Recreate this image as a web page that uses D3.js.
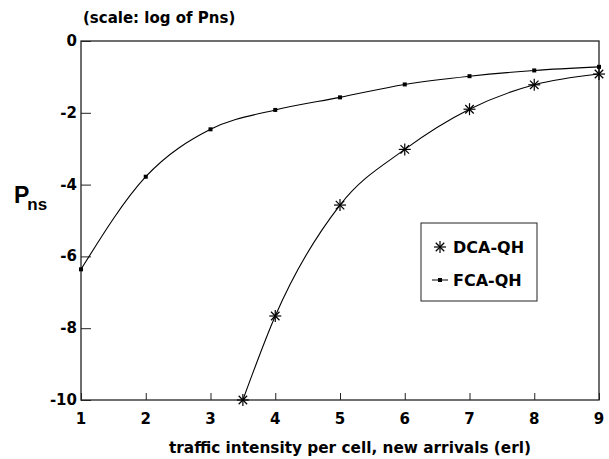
<!DOCTYPE html>
<html>
<head>
<meta charset="utf-8">
<script src="https://cdn.jsdelivr.net/npm/d3@7"></script>
<style>
  body { margin: 0; background: #fff; }
  svg { display: block; font-family: "DejaVu Sans", sans-serif; }
</style>
</head>
<body>
<svg id="chart" width="609" height="459"></svg>
<script>
// traffic intensity (erl) and log10(Pns)
var fcaX = [1, 2, 3, 4, 5, 6, 7, 8, 9];
var fcaY = [-6.36, -3.78, -2.46, -1.92, -1.57, -1.21, -0.98, -0.82, -0.72];
var dcaX = [3.5, 4, 5, 6, 7, 8, 9];
var dcaY = [-10, -7.66, -4.57, -3.02, -1.90, -1.22, -0.92];
var xTicks = [1, 2, 3, 4, 5, 6, 7, 8, 9];
var yTicks = [0, -2, -4, -6, -8, -10];

var svg = d3.select('#chart');
var plotL = 81, plotR = 599, plotT = 41, plotB = 400;

var x = d3.scaleLinear().domain([1, 9]).range([plotL, plotR]);
var y = d3.scaleLinear().domain([-10, 0]).range([plotB, plotT]);

// frame
svg.append('rect')
    .attr('x', plotL).attr('y', plotT)
    .attr('width', plotR - plotL).attr('height', plotB - plotT)
    .attr('fill', 'none').attr('stroke', '#222').attr('stroke-width', 1.3);

// inward ticks
svg.append('g')
    .attr('transform', 'translate(0,' + plotB + ')')
    .call(d3.axisTop(x).tickValues(xTicks).tickSize(7).tickFormat(''))
    .call(function(g) { g.select('.domain').remove(); })
    .selectAll('line').attr('stroke', '#222');

svg.append('g')
    .attr('transform', 'translate(' + plotL + ',0)')
    .call(d3.axisRight(y).tickValues(yTicks).tickSize(10).tickFormat(''))
    .call(function(g) { g.select('.domain').remove(); })
    .selectAll('line').attr('stroke', '#222');

// tick labels
svg.append('g').selectAll('text')
    .data(xTicks).enter().append('text')
    .attr('x', function(d) { return x(d); })
    .attr('y', 424)
    .attr('text-anchor', 'middle')
    .attr('font-size', 15).attr('font-weight', 'bold')
    .text(function(d) { return d; });

svg.append('g').selectAll('text')
    .data(yTicks).enter().append('text')
    .attr('x', 77)
    .attr('y', function(d) { return y(d) + 5; })
    .attr('text-anchor', 'end')
    .attr('font-size', 15).attr('font-weight', 'bold')
    .text(function(d) { return d; });

// titles
svg.append('text')
    .attr('x', 83).attr('y', 23)
    .attr('font-size', 15).attr('font-weight', 'bold')
    .text('(scale: log of Pns)');

svg.append('text')
    .attr('x', 350).attr('y', 453)
    .attr('text-anchor', 'middle')
    .attr('font-size', 15.3).attr('font-weight', 'bold')
    .text('traffic intensity per cell, new arrivals (erl)');

var yl = svg.append('text')
    .attr('x', 14).attr('y', 203)
    .attr('font-family', '"Liberation Sans", Arial, sans-serif')
    .attr('font-size', 23).attr('font-weight', 'bold');
yl.append('tspan').text('P');
yl.append('tspan').attr('font-size', 17).attr('dy', 7).attr('dx', -2).text('ns');

// curves
var line = d3.line()
    .x(function(d) { return x(d[0]); })
    .y(function(d) { return y(d[1]); })
    .curve(d3.curveMonotoneX);

var fca = d3.zip(fcaX, fcaY);
var dca = d3.zip(dcaX, dcaY);

svg.append('path').datum(fca)
    .attr('d', line).attr('fill', 'none').attr('stroke', '#000').attr('stroke-width', 1.1);
svg.append('path').datum(dca)
    .attr('d', line).attr('fill', 'none').attr('stroke', '#000').attr('stroke-width', 1.1);

function star(g, cx, cy, r) {
    var s = g.append('g').attr('transform', 'translate(' + cx + ',' + cy + ')')
        .attr('stroke', '#000').attr('stroke-width', 1.2);
    [0, 45, 90, 135].forEach(function(a) {
        var rad = a * Math.PI / 180;
        s.append('line')
            .attr('x1', -r * Math.cos(rad)).attr('y1', -r * Math.sin(rad))
            .attr('x2', r * Math.cos(rad)).attr('y2', r * Math.sin(rad));
    });
}

var marks = svg.append('g');
dca.forEach(function(d) { star(marks, x(d[0]), y(d[1]), 6); });
marks.selectAll('rect.sq')
    .data(fca).enter().append('rect').attr('class', 'sq')
    .attr('x', function(d) { return x(d[0]) - 2; })
    .attr('y', function(d) { return y(d[1]) - 2; })
    .attr('width', 4).attr('height', 4).attr('fill', '#000');

// legend
var lg = svg.append('g');
lg.append('rect')
    .attr('x', 421).attr('y', 223).attr('width', 116).attr('height', 78)
    .attr('fill', '#fff').attr('stroke', '#222').attr('stroke-width', 1);
star(lg, 440, 247, 6);
lg.append('line').attr('x1', 432).attr('x2', 448).attr('y1', 280).attr('y2', 280)
    .attr('stroke', '#000').attr('stroke-width', 1);
lg.append('rect').attr('x', 438).attr('y', 278).attr('width', 4).attr('height', 4).attr('fill', '#000');
lg.append('text').attr('x', 453).attr('y', 253)
    .attr('font-size', 16).attr('font-weight', 'bold').text('DCA-QH');
lg.append('text').attr('x', 453).attr('y', 286)
    .attr('font-size', 16).attr('font-weight', 'bold').text('FCA-QH');
</script>
</body>
</html>
